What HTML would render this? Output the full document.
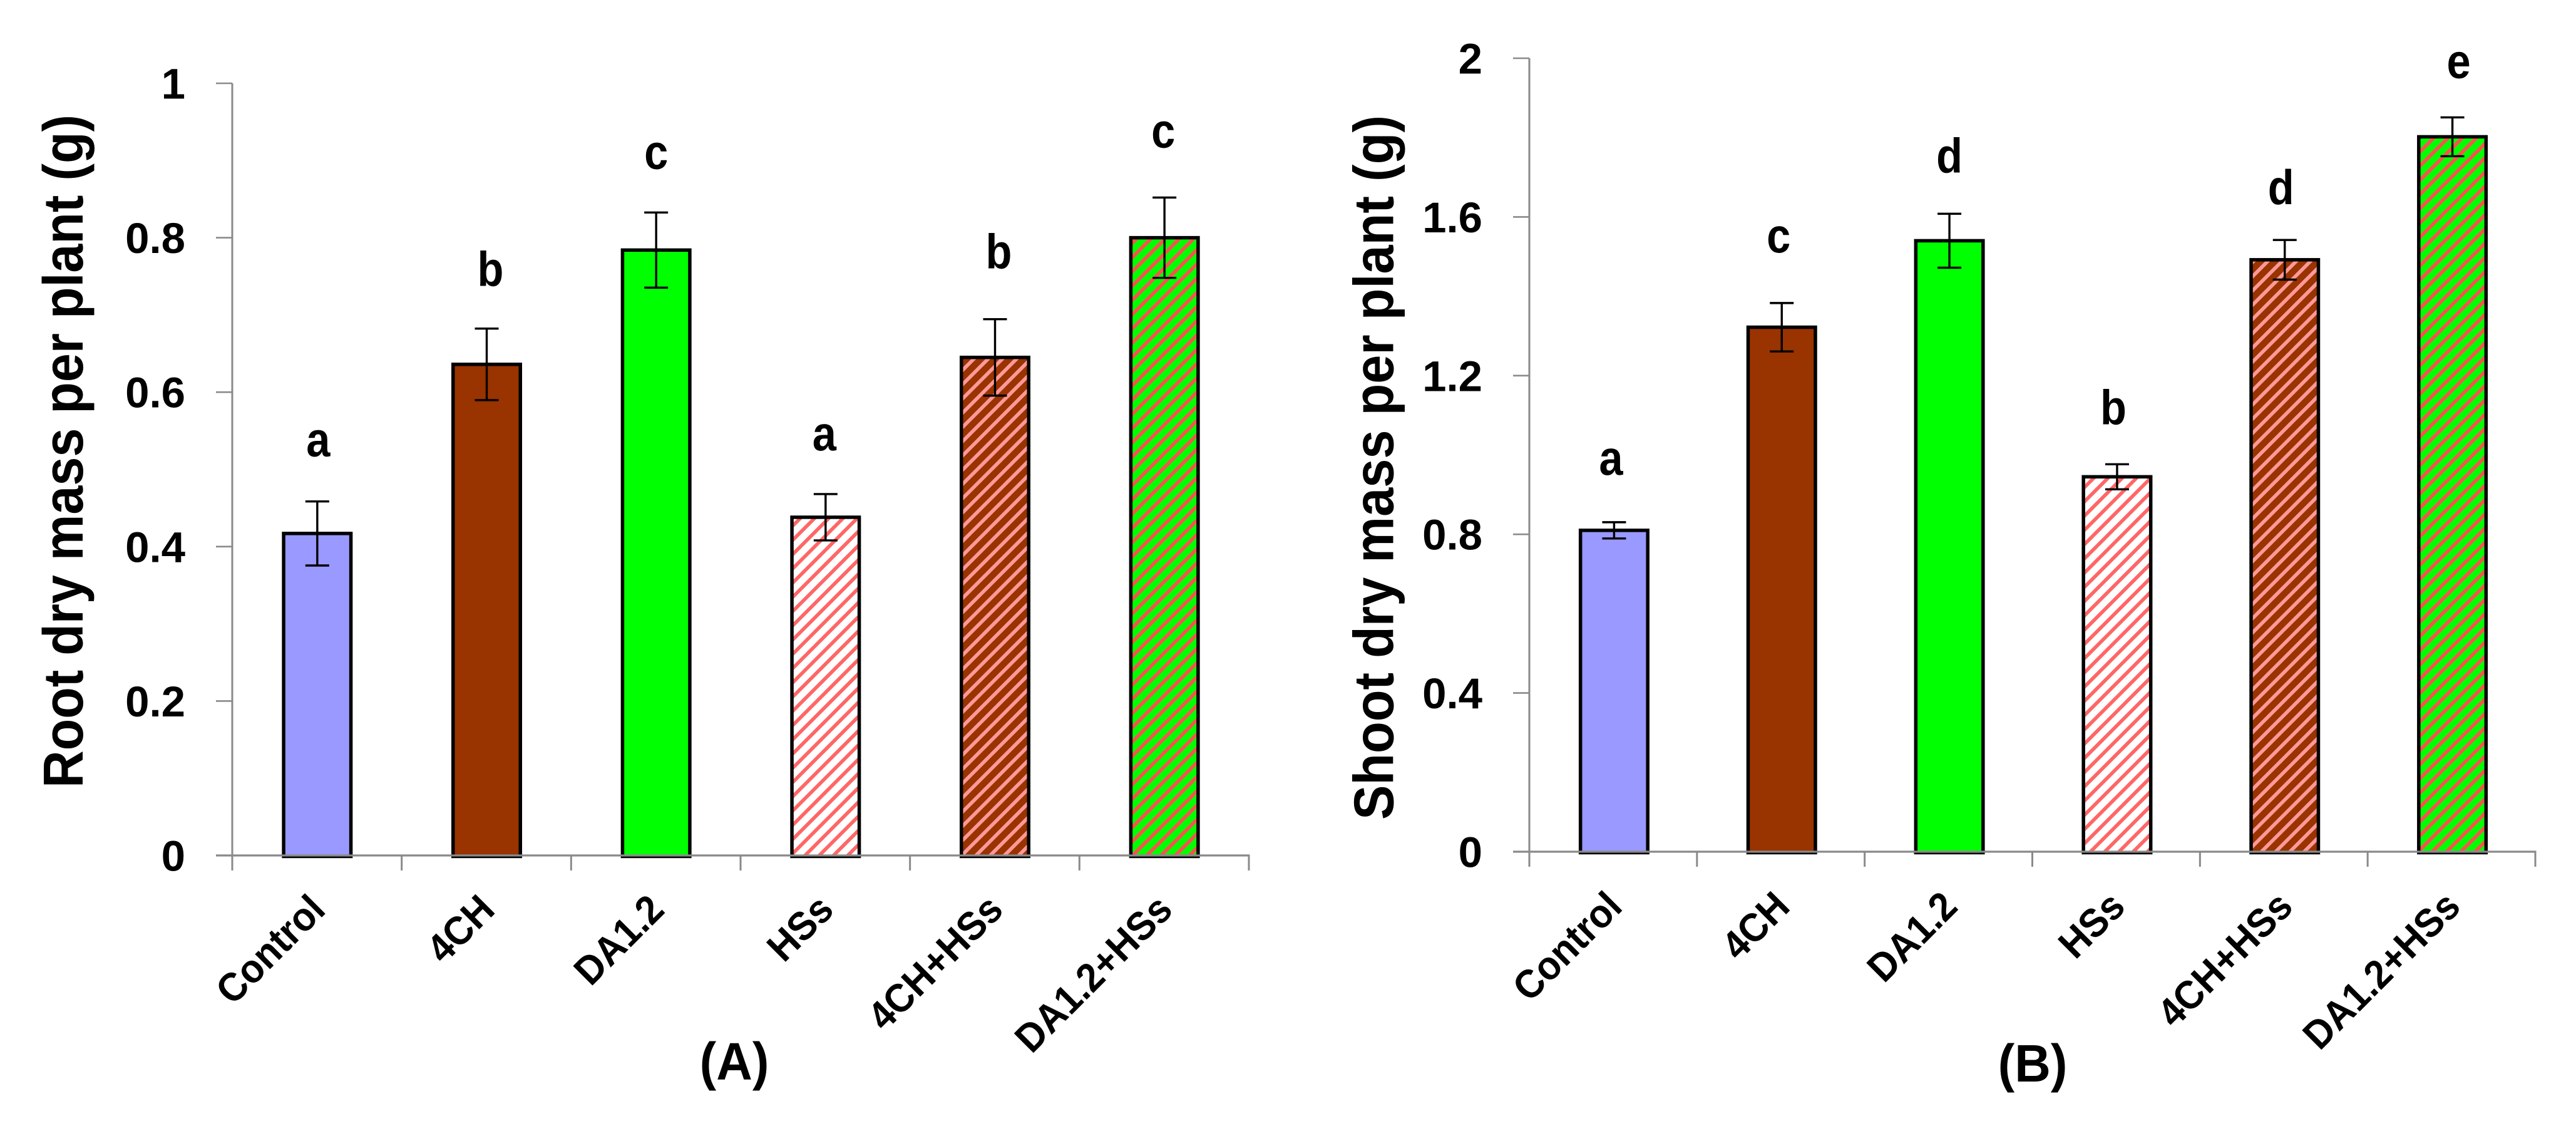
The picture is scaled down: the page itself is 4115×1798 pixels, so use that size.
<!DOCTYPE html>
<html lang="en">
<head>
<meta charset="utf-8">
<title>Root and shoot dry mass per plant</title>
<style>
  html, body { margin: 0; padding: 0; background: #fff; }
  svg { display: block; }
  text { font-family: "Liberation Sans", sans-serif; font-weight: bold; fill: #000; }
</style>
</head>
<body>
<svg id="figure" xmlns="http://www.w3.org/2000/svg" width="4115" height="1798" viewBox="0 0 4115 1798">
  <rect width="4115" height="1798" fill="#ffffff"/>
  <defs id="hatch-defs"></defs>
  <g id="panel-a"></g>
  <g id="panel-b"></g>
</svg>
<script>
// ---- shared data ----
const categories = ["Control", "4CH", "DA1.2", "HSs", "4CH+HSs", "DA1.2+HSs"];

// ---- panel A data ----
const rootValues = [0.417, 0.636, 0.784, 0.438, 0.645, 0.800];
const rootErrors = [0.0415, 0.0463, 0.0487, 0.030, 0.0495, 0.052];
const rootLetters = ["a", "b", "c", "a", "b", "c"];
const rootTickValues = [0, 0.2, 0.4, 0.6, 0.8, 1];
const rootTickLabels = ["0", "0.2", "0.4", "0.6", "0.8", "1"];

// ---- panel B data ----
const shootValues = [0.810, 1.322, 1.540, 0.945, 1.492, 1.802];
const shootErrors = [0.0205, 0.061, 0.068, 0.0316, 0.050, 0.049];
const shootLetters = ["a", "c", "d", "b", "d", "e"];
const shootTickValues = [0, 0.4, 0.8, 1.2, 1.6, 2];
const shootTickLabels = ["0", "0.4", "0.8", "1.2", "1.6", "2"];

const NS = "http://www.w3.org/2000/svg";
function make(parent, tag, attrs, content) {
  const el = document.createElementNS(NS, tag);
  for (const k in attrs) el.setAttribute(k, attrs[k]);
  if (content !== undefined) el.textContent = content;
  parent.appendChild(el);
  return el;
}

// hatch patterns (wide upward diagonal)
const PERIOD = 22.75;
function hatch(id, bg, stripe) {
  const defs = document.getElementById("hatch-defs");
  const p = make(defs, "pattern", { id: id, patternUnits: "userSpaceOnUse", width: 91, height: 91, patternTransform: "translate(13,0)" });
  make(p, "rect", { width: 91, height: 91, fill: bg });
  for (let k = 0; k <= 8; k++) {
    const c = k * PERIOD;
    make(p, "line", { x1: -20, y1: c + 20, x2: c + 20, y2: -20, stroke: stripe, "stroke-width": 5.7 });
  }
}
hatch("hatch-white", "#ffffff", "#ff6666");
hatch("hatch-brown", "#993300", "#ff9999");
hatch("hatch-green", "#00ff00", "#ff5050");

const barFills = ["#9999ff", "#993300", "#00ff00", "url(#hatch-white)", "url(#hatch-brown)", "url(#hatch-green)"];
const AXIS = "#8a8a8a";

function drawPanel(cfg) {
  const g = document.getElementById(cfg.id);
  const n = cfg.categories.length;
  const bandW = (cfg.x1 - cfg.x0) / n;
  const xBand = i => cfg.x0 + (i + 0.5) * bandW + cfg.barShift;
  const xEdge = i => cfg.x0 + i * bandW;
  const yScale = v => cfg.y0 - (v / cfg.yMax) * (cfg.y0 - cfg.yTop);

  // y axis title
  const title = make(g, "text", {
    transform: "translate(" + cfg.titleX + "," + cfg.titleY + ") rotate(-90)",
    "text-anchor": "middle", "font-size": 90,
    textLength: cfg.titleLen, lengthAdjust: "spacingAndGlyphs"
  }, cfg.title);
  
  

  // bars and error bars
  cfg.values.forEach((v, i) => {
    const cx = xBand(i);
    const top = yScale(v);
    const bar = make(g, "rect", {
      x: cx - 53.75, y: top, width: 107.5, height: cfg.y0 + 1.5 - top,
      fill: barFills[i], stroke: "#000", "stroke-width": 5.5
    });
    
    

    const e = cfg.errors[i];
    const yHi = yScale(v + e);
    const yLo = yScale(v - e);
    const eg = make(g, "g", { stroke: "#000", "stroke-width": 3.4, fill: "none" });
    
    
    make(eg, "line", { x1: cx, x2: cx, y1: yHi, y2: yLo });
    make(eg, "line", { x1: cx - 19, x2: cx + 19, y1: yHi, y2: yHi });
    make(eg, "line", { x1: cx - 19, x2: cx + 19, y1: yLo, y2: yLo });

    const lx = cx + cfg.letterDx[i];
    const ly = yHi - cfg.letterGap[i];
    const letter = make(g, "text", {
      transform: "translate(" + lx + "," + ly + ") scale(0.88,1)",
      "text-anchor": "middle", "font-size": 78
    }, cfg.letters[i]);
    
    
  });

  // axes
  const yAxis = make(g, "line", { x1: cfg.x0, x2: cfg.x0, y1: yScale(cfg.yMax), y2: cfg.y0, stroke: AXIS, "stroke-width": 3 });
  
  
  const xAxis = make(g, "line", { x1: cfg.x0 - 26, x2: cfg.x1 + 1.5, y1: cfg.y0, y2: cfg.y0, stroke: AXIS, "stroke-width": 3.2 });
  
  

  cfg.tickValues.forEach((v, i) => {
    const y = yScale(v);
    if (v !== 0) {
      const t = make(g, "line", { x1: cfg.x0 - 26, x2: cfg.x0, y1: y, y2: y, stroke: AXIS, "stroke-width": 2.6 });
      
      
    }
    const lab = make(g, "text", { x: cfg.x0 - 75, y: y + 24.5, "text-anchor": "end", "font-size": 69 }, cfg.tickLabels[i]);
    
    
  });

  for (let i = 0; i <= n; i++) {
    const t = make(g, "line", { x1: xEdge(i), x2: xEdge(i), y1: cfg.y0, y2: cfg.y0 + 24, stroke: AXIS, "stroke-width": 3 });
    
    
  }

  cfg.categories.forEach((c, i) => {
    const lab = make(g, "text", {
      transform: "translate(" + (xBand(i) + 16) + "," + cfg.catY + ") rotate(-45) scale(0.94,1)",
      "text-anchor": "end", "font-size": 64
    }, c);
    
    
  });

  const pl = make(g, "text", {
    transform: "translate(" + cfg.panelX + "," + cfg.panelY + ") scale(0.95,1)",
    "text-anchor": "middle", "font-size": 84
  }, cfg.panelLabel);
  
  
}

drawPanel({
  id: "panel-a", categories: categories,
  values: rootValues, errors: rootErrors, letters: rootLetters,
  tickValues: rootTickValues, tickLabels: rootTickLabels, yMax: 1,
  x0: 371, x1: 1995, y0: 1366, yTop: 133, barShift: 0.5,
  letterDx: [1.5, 6, 0, -2, 6, -2],
  letterGap: [72, 68, 70, 70, 81, 80],
  title: "Root dry mass per plant (g)", titleX: 132, titleY: 720.5, titleLen: 1075,
  catY: 1456, panelLabel: "(A)", panelX: 1173, panelY: 1724
});

drawPanel({
  id: "panel-b", categories: categories,
  values: shootValues, errors: shootErrors, letters: shootLetters,
  tickValues: shootTickValues, tickLabels: shootTickLabels, yMax: 2,
  x0: 2443, x1: 4050, y0: 1360, yTop: 93, barShift: 1.5,
  letterDx: [-5, -5, 0, -6, -6, 10],
  letterGap: [76, 81, 66, 64, 57, 63],
  title: "Shoot dry mass per plant (g)", titleX: 2225.5, titleY: 746.5, titleLen: 1125,
  catY: 1451, panelLabel: "(B)", panelX: 3247, panelY: 1727
});
</script>
</body>
</html>
